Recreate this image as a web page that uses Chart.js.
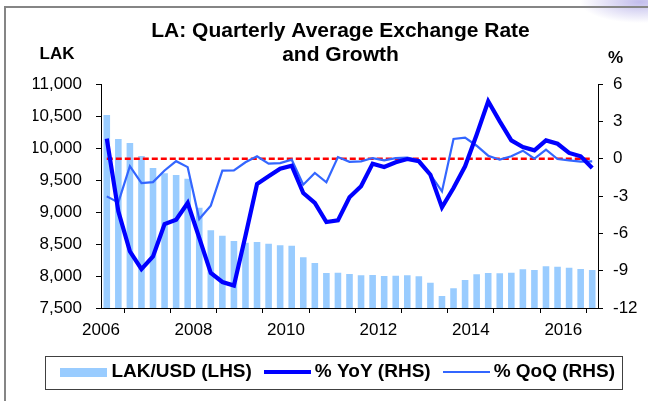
<!DOCTYPE html>
<html>
<head>
<meta charset="utf-8">
<script src="https://cdn.jsdelivr.net/npm/chart.js@4.4.0/dist/chart.umd.min.js"></script>
<style>
  html, body { margin: 0; padding: 0; background: #fff; }
</style>
</head>
<body>
<canvas id="laChart" width="648" height="401"></canvas>
<script>
/* --- Data --- */

const quarters = [
  '2006Q1', '2006Q2', '2006Q3', '2006Q4',
  '2007Q1', '2007Q2', '2007Q3', '2007Q4',
  '2008Q1', '2008Q2', '2008Q3', '2008Q4',
  '2009Q1', '2009Q2', '2009Q3', '2009Q4',
  '2010Q1', '2010Q2', '2010Q3', '2010Q4',
  '2011Q1', '2011Q2', '2011Q3', '2011Q4',
  '2012Q1', '2012Q2', '2012Q3', '2012Q4',
  '2013Q1', '2013Q2', '2013Q3', '2013Q4',
  '2014Q1', '2014Q2', '2014Q3', '2014Q4',
  '2015Q1', '2015Q2', '2015Q3', '2015Q4',
  '2016Q1', '2016Q2', '2016Q3'
]

// LAK per USD, quarterly average (LHS)
const lakUsd = [
  10516, 10141, 10078, 9875,
  9687, 9604, 9578, 9520,
  9067, 8714, 8630, 8547,
  8520, 8531, 8505, 8479,
  8474, 8292, 8203, 8047,
  8052, 8031, 8010, 8016,
  8000, 8005, 8010, 7995,
  7896, 7687, 7807, 7937,
  8026, 8047, 8042, 8052,
  8104, 8094, 8151, 8146,
  8130, 8109, 8094
]

// % YoY (RHS)
const yoy = [
  1.61, -4.23, -7.45, -8.87,
  -7.85, -5.25, -4.9, -3.56,
  -6.37, -9.19, -9.91, -10.2,
  -6.2, -2.03, -1.42, -0.8,
  -0.56, -2.76, -3.56, -5.09,
  -4.96, -3.1, -2.22, -0.4,
  -0.67, -0.29, -0.03, -0.21,
  -1.29, -3.91, -2.36, -0.61,
  1.93, 4.61, 3.0, 1.47,
  0.94, 0.67, 1.47, 1.2,
  0.46, 0.19, -0.75
]

// % QoQ (RHS)
const qoq = [
  -3.03, -3.51, -0.6, -1.97,
  -1.88, -0.95, -0.2, -0.68,
  -4.85, -3.78, -0.96, -0.94,
  -0.29, 0.19, -0.4, -0.35,
  -0.08, -2.09, -1.15, -1.9,
  0.13, -0.25, -0.21, 0.05,
  -0.13, 0.05, 0.08, -0.13,
  -1.29, -2.63, 1.58, 1.69,
  1.04, 0.24, -0.08, 0.19,
  0.64, 0, 0.72, -0.03,
  -0.13, -0.24, -0.21
]

const yearLabels = [2006, 2008, 2010, 2012, 2014, 2016]
const leftUnit = 'LAK'
const rightUnit = '%'
const titleLines = ['LA: Quarterly Average Exchange Rate', 'and Growth']
const seriesNames = ['LAK/USD (LHS)', '% YoY (RHS)', '% QoQ (RHS)']

/* --- Helpers --- */

const FONT = "'Liberation Sans', Arial, sans-serif"
Chart.defaults.font.family = FONT
Chart.defaults.color = '#000'

const BAR_COLOR = '#99CCFF'
const YOY_COLOR = '#0000FF'
const QOQ_COLOR = '#3366FF'

// quarter label -> position on a year axis, middle of the quarter
const xOf = q => Number(q.slice(0, 4)) + (Number(q.slice(5)) - 0.5) / 4
const points = values => quarters.map((q, i) => ({ x: xOf(q), y: values[i] }))

function swatch(w, h, color) {
  const c = document.createElement('canvas')
  c.width = w
  c.height = h
  const g = c.getContext('2d')
  g.fillStyle = color
  g.fillRect(0, 0, w, h)
  return c
}

const swatches = [
  swatch(47, 9, BAR_COLOR),
  swatch(47, 4, YOY_COLOR),
  swatch(47, 2, QOQ_COLOR)
]

// white page, slide frame and the corner glow
const backdrop = {
  id: 'backdrop',
  beforeDraw(chart) {
    const ctx = chart.ctx
    ctx.save()
    ctx.fillStyle = '#fff'
    ctx.fillRect(0, 0, chart.width, chart.height)
    ctx.translate(chart.width - 8, 2)
    ctx.scale(1, 0.35)
    const grd = ctx.createRadialGradient(0, 0, 0, 0, 0, 60)
    grd.addColorStop(0, 'rgba(190,185,235,0.95)')
    grd.addColorStop(1, 'rgba(190,185,235,0)')
    ctx.fillStyle = grd
    ctx.fillRect(-70, -70, 140, 140)
    ctx.restore()
    ctx.save()
    ctx.strokeStyle = '#858585'
    ctx.lineWidth = 2
    ctx.beginPath()
    ctx.moveTo(5, chart.height)
    ctx.lineTo(5, 7)
    ctx.lineTo(chart.width, 7)
    ctx.stroke()
    ctx.restore()
  }
}

// axis unit labels above each axis, and the legend frame
const extras = {
  id: 'extras',
  afterDraw(chart) {
    const { ctx, chartArea } = chart
    ctx.save()
    ctx.fillStyle = '#000'
    ctx.font = 'bold 17px ' + FONT
    ctx.textAlign = 'center'
    ctx.textBaseline = 'alphabetic'
    ctx.fillText(leftUnit, chartArea.left - 44, chartArea.top - 25.5)
    ctx.fillText(rightUnit, chartArea.right + 17.5, chartArea.top - 21)

    const hb = chart.legend.legendHitBoxes
    if (hb && hb.length) {
      const first = hb[0]
      const last = hb[hb.length - 1]
      const cy = first.top + first.height / 2
      const left = Math.round(first.left - 20.5) + 0.5
      const right = Math.round(last.left + last.width + 7) + 0.5
      ctx.strokeStyle = '#404040'
      ctx.lineWidth = 1
      ctx.strokeRect(left, Math.round(cy - 16.5) + 0.5, right - left, 33)
    }
    ctx.restore()
  }
}

/* --- Chart --- */

const data = {
  datasets: [
    {
      type: 'bar',
      label: seriesNames[0],
      data: points(lakUsd),
      yAxisID: 'y',
      backgroundColor: BAR_COLOR,
      borderWidth: 0,
      barPercentage: 0.57,
      categoryPercentage: 1,
      order: 4
    },
    {
      type: 'line',
      label: seriesNames[1],
      data: points(yoy),
      yAxisID: 'y1',
      borderColor: YOY_COLOR,
      borderWidth: 4.2,
      pointRadius: 0,
      tension: 0,
      order: 1
    },
    {
      type: 'line',
      label: seriesNames[2],
      data: points(qoq),
      yAxisID: 'y1',
      borderColor: QOQ_COLOR,
      borderWidth: 2.2,
      pointRadius: 0,
      tension: 0,
      order: 2
    },
    {
      type: 'line',
      label: 'zero',
      data: [
        { x: xOf(quarters[0]), y: 0 },
        { x: xOf(quarters[quarters.length - 1]), y: 0 }
      ],
      yAxisID: 'y1',
      borderColor: '#FF0000',
      borderWidth: 2.5,
      borderDash: [6, 3],
      pointRadius: 0,
      order: 3
    }
  ]
}

const tickFont = { size: 17 }
const axisGrid = {
  drawOnChartArea: false,
  drawTicks: true,
  tickLength: 5,
  color: '#000',
  tickColor: '#000'
}

const config = {
  data: data,
  options: {
    responsive: false,
    animation: false,
    events: [],
    layout: { padding: { left: 33, right: 0, top: 0, bottom: 9.5 } },
    plugins: {
      title: {
        display: true,
        text: titleLines,
        color: '#000',
        font: { size: 21, weight: 'bold', lineHeight: 1.16 },
        padding: { top: 19, bottom: 16.3 }
      },
      legend: {
        position: 'bottom',
        labels: {
          usePointStyle: true,
          pointStyleWidth: 36,
          padding: 17.5,
          color: '#000',
          font: { size: 19, weight: 'bold' },
          generateLabels: () => seriesNames.map((name, i) => ({
            text: name,
            pointStyle: swatches[i],
            fillStyle: 'transparent',
            strokeStyle: 'transparent',
            lineWidth: 0,
            hidden: false,
            datasetIndex: i,
            fontColor: '#000'
          }))
        }
      },
      tooltip: { enabled: false }
    },
    scales: {
      x: {
        type: 'linear',
        position: 'bottom',
        min: 2006,
        max: 2016.75,
        offset: false,
        ticks: {
          stepSize: 1,
          includeBounds: false,
          autoSkip: false,
          maxRotation: 0,
          maxTicksLimit: 20,
          padding: 7,
          font: tickFont,
          callback: v => yearLabels.includes(v) ? String(v) : ''
        },
        grid: axisGrid,
        border: { display: true, color: '#000', width: 1 },
        afterFit: s => { s.height = 37 }
      },
      y: {
        type: 'linear',
        position: 'left',
        min: 7500,
        max: 11000,
        ticks: {
          stepSize: 500,
          padding: 14,
          font: tickFont,
          callback: v => v.toLocaleString('en-US')
        },
        grid: axisGrid,
        border: { display: true, color: '#000', width: 1 },
        afterFit: s => { s.width = 68 }
      },
      y1: {
        type: 'linear',
        position: 'right',
        min: -12,
        max: 6,
        ticks: {
          stepSize: 3,
          padding: 10,
          font: tickFont
        },
        grid: axisGrid,
        border: { display: true, color: '#000', width: 1 },
        afterFit: s => { s.width = 50 }
      }
    }
  },
  plugins: [backdrop, extras]
}

const laChart = new Chart(
  document.getElementById('laChart').getContext('2d'),
  config
)
</script>
</body>
</html>
